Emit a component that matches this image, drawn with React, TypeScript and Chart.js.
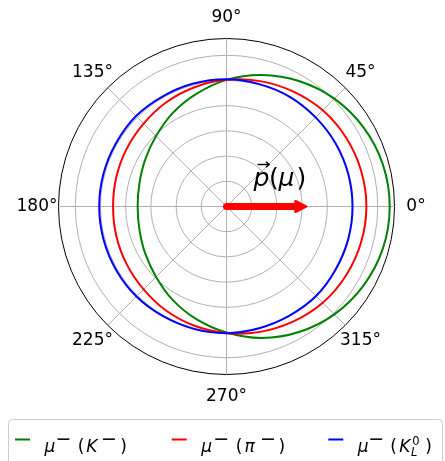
import React, { useEffect, useRef } from 'react';
import { Chart, registerables } from 'chart.js';

Chart.register(...registerables);

// ---- data (polar angle in degrees, radius in arbitrary units) ----
const anglesDeg = [0, 15, 30, 45, 60, 75, 90, 105, 120, 135, 150, 165, 180, 195, 210, 225, 240, 255, 270, 285, 300, 315, 330, 345];
const rMuK = [1.295, 1.285, 1.255, 1.21, 1.15, 1.08, 1.005, 0.925, 0.855, 0.79, 0.745, 0.715, 0.705, 0.715, 0.745, 0.79, 0.855, 0.925, 1.0, 1.08, 1.15, 1.21, 1.255, 1.285];
const rMuPi = [1.11, 1.105, 1.095, 1.08, 1.055, 1.03, 1.005, 0.98, 0.955, 0.93, 0.915, 0.905, 0.9, 0.905, 0.915, 0.93, 0.955, 0.98, 1.005, 1.03, 1.055, 1.08, 1.095, 1.105];
const rMuKL = [1.0, 1.0, 1.0, 1.0, 1.005, 1.005, 1.01, 1.01, 1.01, 1.015, 1.01, 1.01, 1.01, 1.01, 1.01, 1.01, 1.005, 1.005, 1.005, 1.0, 1.0, 1.005, 1.0, 1.0];
const seriesLabels = ['μ⁻(K⁻)', 'μ⁻(π⁻)', 'μ⁻(K⁰_L)'];
const seriesColors = ['#008000', '#ff0000', '#0000ff'];
const angleTickDeg = [0, 45, 90, 135, 180, 225, 270, 315];
const angleTickLabels = ['0°', '45°', '90°', '135°', '180°', '225°', '270°', '315°'];
const radialGridValues = [0, 0.2, 0.4, 0.6, 0.8, 1.0, 1.2];
const rMax = 1.333;
const arrowValue = 0.643;

// radar goes clockwise from top; map to math convention (ccw from +x)
const radarAngles = anglesDeg.map((_, i) => (((90 - i * 15) % 360) + 360) % 360);
const reorder = (arr: number[]) => radarAngles.map((a) => arr[anglesDeg.indexOf(a)]);

// legend rich-text pieces
type Piece = { t: string; x: number; k: 'it' | 'n' | 'sup' | 'sup0' | 'sub' };
const legendPieces: Piece[][] = [
  [
    { t: 'μ', x: -0.5, k: 'it' }, { t: '−', x: 10.5, k: 'sup' }, { t: '(', x: 32.8, k: 'n' },
    { t: 'K', x: 41.3, k: 'it' }, { t: '−', x: 56, k: 'sup' }, { t: ')', x: 75.3, k: 'n' },
  ],
  [
    { t: 'μ', x: -0.5, k: 'it' }, { t: '−', x: 11.5, k: 'sup' }, { t: '(', x: 34.1, k: 'n' },
    { t: 'π', x: 42.8, k: 'it' }, { t: '−', x: 58.3, k: 'sup' }, { t: ')', x: 76.9, k: 'n' },
  ],
  [
    { t: 'μ', x: -0.5, k: 'it' }, { t: '−', x: 10, k: 'sup' }, { t: '(', x: 31.9, k: 'n' },
    { t: 'K', x: 41, k: 'it' }, { t: '0', x: 53.9, k: 'sup0' }, { t: 'L', x: 52.8, k: 'sub' }, { t: ')', x: 67, k: 'n' },
  ],
];
const legendItemX = [15, 171.7, 328.3];
const legendTextX = [45, 201.7, 358.3];

const FONT = '"DejaVu Sans", "Liberation Sans", sans-serif';

const overlayPlugin = {
  id: 'polarOverlay',
  afterDraw(chart: any) {
    const ctx: CanvasRenderingContext2D = chart.ctx;
    const scale = chart.scales.r;
    const cx = scale.xCenter;
    const cy = scale.yCenter;
    ctx.save();

    // angular tick labels
    ctx.font = `17px ${FONT}`;
    ctx.fillStyle = '#000';
    ctx.textAlign = 'center';
    ctx.textBaseline = 'middle';
    angleTickDeg.forEach((a, j) => {
      const idx = radarAngles.indexOf(a);
      const p = scale.getPointPosition(idx, scale.drawingArea + 21.5);
      ctx.fillText(angleTickLabels[j], p.x, p.y + 0.5);
    });

    // momentum arrow
    const idx0 = radarAngles.indexOf(0);
    const tip = scale.getPointPosition(idx0, scale.getDistanceFromCenterForValue(arrowValue));
    ctx.strokeStyle = '#ff0000';
    ctx.fillStyle = '#ff0000';
    ctx.lineCap = 'round';
    ctx.lineJoin = 'round';
    ctx.lineWidth = 7;
    ctx.beginPath();
    ctx.moveTo(cx, cy);
    ctx.lineTo(tip.x - 10, tip.y);
    ctx.stroke();
    ctx.lineWidth = 2.5;
    ctx.beginPath();
    ctx.moveTo(tip.x - 12, tip.y - 5.3);
    ctx.lineTo(tip.x - 1.3, tip.y);
    ctx.lineTo(tip.x - 12, tip.y + 5.3);
    ctx.closePath();
    ctx.fill();
    ctx.stroke();

    // label  p⃗(μ)
    const bx = cx + 27.5;
    const by = cy - 20.5;
    ctx.fillStyle = '#000';
    ctx.strokeStyle = '#000';
    ctx.textAlign = 'left';
    ctx.textBaseline = 'alphabetic';
    ctx.font = `italic 25px ${FONT}`;
    ctx.fillText('p', bx - 0.5, by);
    ctx.font = `25px ${FONT}`;
    ctx.fillText('(', bx + 15, by);
    ctx.font = `italic 25px ${FONT}`;
    ctx.fillText('μ', bx + 24.5, by);
    ctx.font = `25px ${FONT}`;
    ctx.fillText(')', bx + 42.5, by);
    // vector accent
    ctx.lineWidth = 1.4;
    ctx.lineCap = 'butt';
    ctx.beginPath();
    ctx.moveTo(bx + 3.5, by - 21.5);
    ctx.lineTo(bx + 15, by - 21.5);
    ctx.stroke();
    ctx.beginPath();
    ctx.moveTo(bx + 12, by - 24.3);
    ctx.lineTo(bx + 15.3, by - 21.5);
    ctx.lineTo(bx + 12, by - 18.7);
    ctx.stroke();

    // legend frame
    ctx.lineWidth = 1;
    ctx.strokeStyle = '#cccccc';
    ctx.fillStyle = 'rgba(255,255,255,0.8)';
    const lx = 8.5, ly = 419.5, lw = 434, lh = 50, rr = 4;
    ctx.beginPath();
    ctx.moveTo(lx + rr, ly);
    ctx.lineTo(lx + lw - rr, ly);
    ctx.arcTo(lx + lw, ly, lx + lw, ly + rr, rr);
    ctx.lineTo(lx + lw, ly + lh);
    ctx.lineTo(lx, ly + lh);
    ctx.lineTo(lx, ly + rr);
    ctx.arcTo(lx, ly, lx + rr, ly, rr);
    ctx.closePath();
    ctx.fill();
    ctx.stroke();

    // legend items
    const base = 452;
    seriesLabels.forEach((_, i) => {
      ctx.strokeStyle = seriesColors[i];
      ctx.lineWidth = 2;
      ctx.lineCap = 'butt';
      ctx.beginPath();
      ctx.moveTo(legendItemX[i], 439.5);
      ctx.lineTo(legendItemX[i] + 15, 439.5);
      ctx.stroke();
      ctx.fillStyle = '#000';
      legendPieces[i].forEach((p) => {
        let y = base;
        if (p.k === 'it') ctx.font = `italic 17px ${FONT}`;
        else if (p.k === 'n') ctx.font = `17px ${FONT}`;
        else if (p.k === 'sup') { ctx.font = `19px ${FONT}`; y = 444.5; }
        else if (p.k === 'sup0') { ctx.font = `11.5px ${FONT}`; y = 444.5; }
        else { ctx.font = `italic 11.5px ${FONT}`; y = 455.5; }
        ctx.fillText(p.t, legendTextX[i] + p.x, y);
      });
    });
    ctx.restore();
  },
};

export default function App() {
  const ref = useRef<HTMLCanvasElement | null>(null);
  useEffect(() => {
    if (!ref.current) return;
    const seriesData = [rMuK, rMuPi, rMuKL];
    const chart = new Chart(ref.current, {
      type: 'radar',
      data: {
        labels: radarAngles.map((a) => `${a}°`),
        datasets: seriesData.map((d, i) => ({
          label: seriesLabels[i],
          data: reorder(d),
          borderColor: seriesColors[i],
          backgroundColor: 'rgba(0,0,0,0)',
          borderWidth: 2,
          fill: false,
          tension: 0.3,
          pointRadius: 0,
          pointHoverRadius: 0,
          order: 2 - i,
        })),
      },
      options: {
        responsive: false,
        animation: false,
        events: [],
        plugins: { legend: { display: false }, tooltip: { enabled: false } },
        scales: {
          r: {
            min: 0,
            max: rMax,
            startAngle: 0,
            ticks: { display: false },
            grid: {
              circular: true,
              color: (c: any) => (c.tick && c.tick.value >= rMax - 1e-6 ? '#000000' : '#b0b0b0'),
              lineWidth: 1,
            },
            angleLines: {
              display: true,
              color: (c: any) => (angleTickDeg.includes(radarAngles[c.index]) ? '#b0b0b0' : 'rgba(0,0,0,0)'),
              lineWidth: (c: any) => (angleTickDeg.includes(radarAngles[c.index]) ? 1 : 0),
            },
            pointLabels: { display: false },
            afterBuildTicks: (s: any) => {
              s.ticks = [...radialGridValues, rMax].map((v) => ({ value: v }));
            },
            afterFit: (s: any) => {
              s.xCenter = 226.5;
              s.yCenter = 206.5;
              s.drawingArea = 168;
            },
          } as any,
        },
      },
      plugins: [overlayPlugin],
    });
    return () => chart.destroy();
  }, []);
  return (
    <div style={{ position: 'absolute', left: 0, top: 0, width: 445, height: 461, background: '#fff' }}>
      <canvas ref={ref} width={445} height={461} style={{ display: 'block' }} />
    </div>
  );
}
